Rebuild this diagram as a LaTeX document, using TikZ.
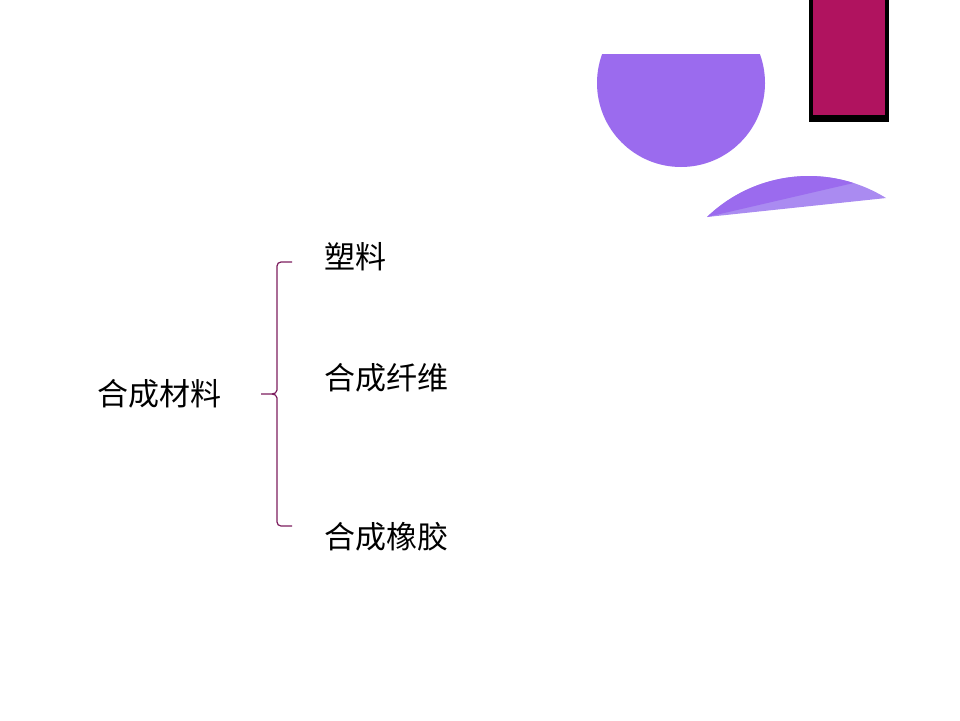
\documentclass[tikz,border=0pt]{standalone}
\usepackage{fontspec}
\usepackage{xcolor}
\newfontfamily\cjk{Noto Sans CJK SC}
\definecolor{violetfill}{RGB}{155,107,238}
\definecolor{lilacfill}{RGB}{170,139,241}
\definecolor{berry}{RGB}{176,19,95}
\definecolor{bracecol}{RGB}{125,30,95}

\begin{document}
\begin{tikzpicture}[x=1pt, y=-1pt,
        label/.style={anchor=west, inner sep=0pt, font=\cjk\fontsize{31}{36}\selectfont}]
        \useasboundingbox (0, 0) rectangle (960, 720);
        \fill[white] (0, 0) rectangle (960, 720);
        % decoration, top right
        \begin{scope}
            \clip (0, 54) rectangle (960, 720);
            \fill[violetfill] (681, 83) circle (84);
        \end{scope}
        \begin{scope}
            \clip (0, 0) rectangle (960, 720);
            \fill[black] (809, -5) rectangle (889, 122);
            \fill[berry] (813, -5) rectangle (885, 115);
        \end{scope}
        \fill[lilacfill] (707, 217) arc (226.1:301.8:146.7) -- cycle;
        \fill[violetfill] (707, 217) arc (226.1:287.8:146.7) -- cycle;
        % labels
        \node[label] (main) at (97, 394) {合成材料};
        \node[label] (plastic) at (324, 257) {塑料};
        \node[label] (fibre) at (324, 378) {合成纤维};
        \node[label] (rubber) at (324, 537) {合成橡胶};
        % brace
        \coordinate (tip) at (261, 394);
        \coordinate (mid) at (272, 394);
        \coordinate (top) at (292, 262);
        \coordinate (bottom) at (292, 526);
        \draw[bracecol, line width=1.2pt] (top) -- (281, 262) to[out=180, in=90] (277, 266) -- (277, 390) to[out=-90, in=0] (mid) -- (tip);
        \draw[bracecol, line width=1.2pt] (mid) to[out=0, in=90] (277, 398) -- (277, 522) to[out=-90, in=180] (281, 526) -- (bottom);
\end{tikzpicture}
\end{document}
